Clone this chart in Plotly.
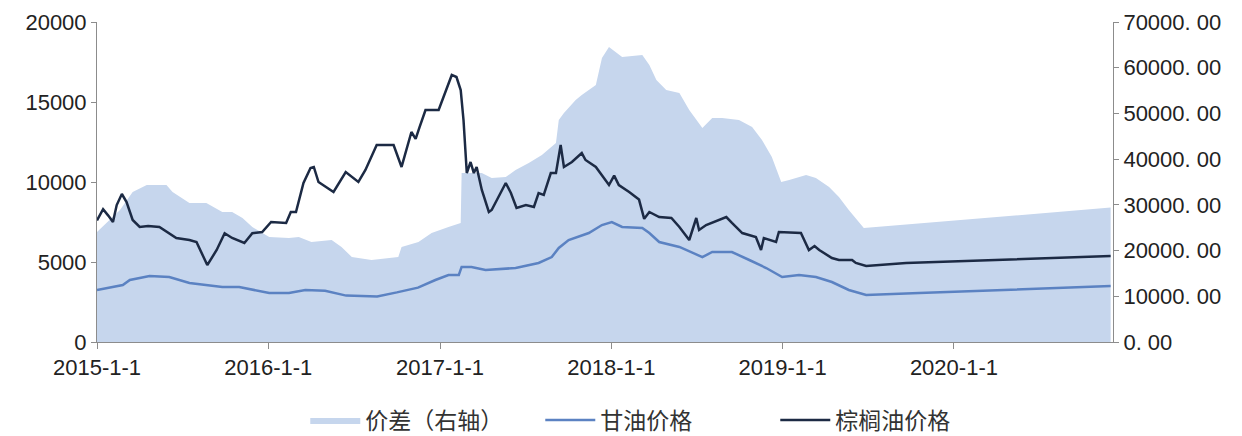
import plotly.graph_objects as go

# ---------------- data ----------------
palm_dates = ["2015-01-01","2015-01-08","2015-01-14","2015-01-25","2015-02-04","2015-02-12","2015-02-23",
    "2015-03-05","2015-03-18","2015-04-02","2015-04-20","2015-05-14","2015-06-04","2015-06-19","2015-07-17","2015-08-01",
    "2015-08-24","2015-09-13","2015-09-30","2015-10-16","2015-11-11","2015-11-28","2015-12-19","2016-01-07",
    "2016-02-08","2016-02-18","2016-02-29","2016-03-16","2016-03-31","2016-04-07","2016-04-17","2016-05-19",
    "2016-06-14","2016-07-11","2016-07-26","2016-08-19","2016-09-24","2016-10-11","2016-11-01","2016-11-10",
    "2016-11-18","2016-12-01","2016-12-29","2017-01-13","2017-01-26","2017-02-05","2017-02-14","2017-02-20",
    "2017-02-27","2017-03-07","2017-03-14","2017-03-20","2017-03-31","2017-04-15","2017-04-21","2017-05-21",
    "2017-06-01","2017-06-13","2017-07-03","2017-07-20","2017-07-30","2017-08-10","2017-08-25","2017-09-05",
    "2017-09-15","2017-09-22","2017-10-09","2017-10-30","2017-11-07","2017-11-29","2017-12-27","2018-01-07",
    "2018-01-17","2018-02-08","2018-03-01","2018-03-12","2018-03-23","2018-04-13","2018-05-09","2018-05-26",
    "2018-06-16","2018-07-01","2018-07-07","2018-07-22","2018-09-03","2018-09-15","2018-10-07","2018-11-05",
    "2018-11-16","2018-11-22","2018-12-18","2018-12-24","2019-02-09","2019-02-26","2019-03-10","2019-03-20",
    "2019-04-16","2019-05-01","2019-05-29","2019-06-06","2019-06-28","2019-09-21","2020-01-15","2020-06-01",
    "2020-11-30"]
palm_values = [7600,8000,8300,7900,7500,8560,9250,
    8750,7625,7190,7250,7190,6800,6500,6375,6250,
    4810,5750,6800,6500,6190,6800,6875,7500,
    7440,8125,8125,9940,10875,10940,10000,9375,
    10625,10000,10750,12310,12310,10940,13125,12700,
    13400,14500,14500,15625,16690,16560,15750,13875,
    10560,11250,10560,10940,9500,8125,8250,9940,
    9310,8375,8560,8440,9310,9190,10560,10560,
    12310,10940,11250,11810,11375,10940,9810,10400,
    9810,9375,8900,7700,8125,7810,7750,7190,
    6375,7750,7000,7310,7810,7440,6810,6560,
    5750,6500,6250,6875,6810,5750,6000,5750,
    5250,5125,5125,4940,4750,4940,5050,5200,
    5375]

gly_dates = ["2015-01-01","2015-02-25","2015-03-12","2015-04-23","2015-06-04","2015-07-17","2015-09-25",
    "2015-10-31","2016-01-03","2016-02-14","2016-03-20","2016-05-01","2016-06-15","2016-08-20","2016-10-01",
    "2016-11-15","2016-12-22","2017-01-19","2017-02-10","2017-02-16","2017-03-09","2017-04-08","2017-06-11",
    "2017-07-30","2017-08-27","2017-09-11","2017-10-02","2017-11-14","2017-12-12","2018-01-02","2018-01-24",
    "2018-03-08","2018-03-23","2018-04-13","2018-05-26","2018-07-14","2018-08-04","2018-09-15","2018-10-22",
    "2018-11-27","2018-12-31","2019-02-05","2019-03-13","2019-04-16","2019-05-22","2019-06-28","2019-10-19",
    "2020-04-01","2020-11-30"]
gly_values = [3250,3560,3875,4125,4060,3690,3440,
    3440,3060,3060,3250,3200,2900,2850,3100,
    3400,3875,4190,4190,4690,4690,4500,4625,
    4940,5310,5875,6375,6810,7310,7500,7190,
    7125,6810,6250,5940,5310,5625,5625,5125,
    4625,4060,4190,4060,3750,3250,2940,3060,
    3250,3500]

spread_dates = ["2015-01-01","2015-02-19","2015-03-18","2015-04-17","2015-05-29","2015-06-11","2015-07-17",
    "2015-08-22","2015-09-25","2015-10-16","2015-11-07","2015-11-28","2016-01-03","2016-02-14","2016-03-06",
    "2016-04-02","2016-05-15","2016-06-05","2016-06-27","2016-08-08","2016-10-04","2016-10-11","2016-11-16",
    "2016-12-14","2017-01-19","2017-02-10","2017-02-14","2017-02-16","2017-03-31","2017-04-21","2017-05-21",
    "2017-06-11","2017-07-09","2017-08-06","2017-09-05","2017-09-11","2017-09-22","2017-10-17","2017-10-30",
    "2017-11-29","2017-12-12","2017-12-27","2018-01-11","2018-01-24","2018-03-08","2018-03-23","2018-04-07",
    "2018-04-28","2018-05-26","2018-06-16","2018-07-14","2018-08-04","2018-08-25","2018-09-30","2018-10-28",
    "2018-11-18","2018-12-09","2018-12-29","2019-01-15","2019-02-20","2019-03-13","2019-04-10","2019-05-01",
    "2019-05-22","2019-06-23","2020-11-30"]
spread_values = [24060,28875,32800,34340,34340,32800,30400,
    30400,28440,28440,27125,25160,22970,22750,22970,
    21875,22310,20780,18600,17940,18600,20780,21875,
    23840,25160,26030,26030,36970,36970,35875,36090,
    37625,39160,40900,43530,48560,50090,52940,54030,
    56220,62125,64530,63440,62340,62780,60590,57310,
    55125,54470,50750,46810,49000,49000,48560,47030,
    44190,40470,35000,35440,36530,35875,33900,31720,
    28875,24940,29400]

left_ticks = [0, 5000, 10000, 15000, 20000]
left_ticktext = ["0", "5000", "10000", "15000", "20000"]
right_ticks = [0, 10000, 20000, 30000, 40000, 50000, 60000, 70000]
right_ticktext = ["0. 00", "10000. 00", "20000. 00", "30000. 00", "40000. 00", "50000. 00", "60000. 00", "70000. 00"]
x_ticks = ["2015-01-01", "2016-01-01", "2017-01-01", "2018-01-01", "2019-01-01", "2020-01-01"]
x_ticktext = ["2015-1-1", "2016-1-1", "2017-1-1", "2018-1-1", "2019-1-1", "2020-1-1"]

# ---------------- figure ----------------
fig = go.Figure()
fig.add_trace(go.Scatter(x=spread_dates, y=spread_values, name="价差（右轴）", mode="lines",
                         line=dict(width=0, color="#c6d6ed"), fill="tozeroy",
                         fillcolor="#c6d6ed", yaxis="y"))
fig.add_trace(go.Scatter(x=gly_dates, y=gly_values, name="甘油价格", mode="lines",
                         line=dict(width=2.5, color="#5b82c2"), yaxis="y2"))
fig.add_trace(go.Scatter(x=palm_dates, y=palm_values, name="棕榈油价格", mode="lines",
                         line=dict(width=2.5, color="#1c2a44"), yaxis="y2"))

tickfont = dict(family="Liberation Sans, Arial, sans-serif", size=22, color="#222222")
fig.update_layout(
    width=1242, height=436,
    margin=dict(l=97, r=129, t=22, b=94, autoexpand=False),
    paper_bgcolor="white", plot_bgcolor="white",
    showlegend=True,
    legend=dict(orientation="h", x=0.205, xanchor="left", y=-0.244, yanchor="middle",
                font=dict(family="Noto Sans CJK SC, sans-serif", size=23, color="#333333"),
                entrywidth=170, entrywidthmode="pixels", itemwidth=50, tracegroupgap=0,
                bgcolor="rgba(0,0,0,0)"),
    xaxis=dict(type="date", range=["2015-01-01", "2020-12-05"], tickvals=x_ticks, ticktext=x_ticktext,
               showgrid=False, zeroline=False, showline=True, linecolor="#8c8c8c", linewidth=1,
               ticks="outside", ticklen=6, tickcolor="#8c8c8c", tickfont=tickfont),
    yaxis=dict(range=[0, 70000], side="right", tickvals=right_ticks, ticktext=right_ticktext,
               showgrid=False, zeroline=False, showline=True, linecolor="#8c8c8c", linewidth=1,
               ticks="outside", ticklen=5, tickcolor="#8c8c8c", tickfont=tickfont),
    yaxis2=dict(range=[0, 20000], side="left", overlaying="y", tickvals=left_ticks, ticktext=left_ticktext,
                showgrid=False, zeroline=False, showline=True, linecolor="#8c8c8c", linewidth=1,
                ticks="outside", ticklen=5, tickcolor="#8c8c8c", tickfont=tickfont),
)

fig.write_html("out.html")
